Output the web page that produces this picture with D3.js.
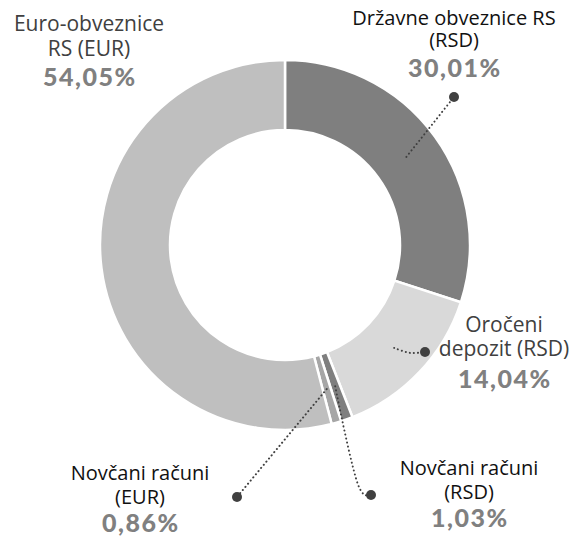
<!DOCTYPE html>
<html><head><meta charset="utf-8">
<script src="https://cdn.jsdelivr.net/npm/d3@7"></script>
<style>html,body{margin:0;padding:0;background:#fff;}svg{display:block;}</style>
</head><body>
<svg id="c" width="576" height="538"></svg>
<script>
// ---- data ----
const categories = ["Državne obveznice RS (RSD)", "Oročeni depozit (RSD)", "Novčani računi (RSD)", "Novčani računi (EUR)", "Euro-obveznice RS (EUR)"];
const values = [30.01, 14.04, 1.03, 0.86, 54.05];
const labelLines = [["Državne obveznice RS", "(RSD)"], ["Oročeni", "depozit (RSD)"], ["Novčani računi", "(RSD)"], ["Novčani računi", "(EUR)"], ["Euro-obveznice", "RS (EUR)"]];
const colors = ["#7f7f7f", "#d9d9d9", "#7f7f7f", "#a6a6a6", "#bfbfbf"];

// ---- layout ----
const cx = 285, cy = 245, R = 185, r = 115;
const layout = [
  {x: 454, y: [25, 47, 77], dot: [454, 97], font: "black", path: "straight"},
  {x: 504, y: [332, 356, 388], dot: [425, 352], font: "grey", path: "curve"},
  {x: 469, y: [475, 499, 527], dot: [371, 495], font: "black", path: "bend"},
  {x: 140, y: [480, 504, 532], dot: [237, 497], font: "black", path: "straight"},
  {x: 89, y: [31, 56, 86], dot: null, font: "grey", path: null}
];

const svg = d3.select("#c");
const g = svg.append("g").attr("transform", `translate(${cx},${cy})`);
const pie = d3.pie().sort(null).value(d => d)(values);
const arc = d3.arc().innerRadius(r).outerRadius(R);
const mid = d3.arc().innerRadius(150).outerRadius(150);

g.selectAll("path.s").data(pie).join("path").attr("class", "s")
  .attr("d", arc).attr("fill", (d, i) => colors[i])
  .attr("stroke", "#fff").attr("stroke-width", 2.5).attr("stroke-linejoin", "miter");

const fmt = v => d3.format(".2f")(v).replace(".", ",") + "%";

// connectors
pie.forEach((d, i) => {
  const L = layout[i];
  if (!L.dot) return;
  const [sx, sy] = mid.centroid(d);
  const s = [sx + cx, sy + cy];
  const e = L.dot;
  let pts;
  if (L.path === "straight") pts = [s, e];
  else if (L.path === "curve") pts = [s, [s[0] + 16, s[1] + 5], e];
  else pts = [s, [e[0] - 12, e[1] - 8], [e[0] - 6, e[1]], e];
  const line = d3.line().curve(L.path === "straight" ? d3.curveLinear : d3.curveCatmullRom);
  svg.append("path").attr("d", line(pts)).attr("fill", "none")
    .attr("stroke", "#404040").attr("stroke-width", 2)
    .attr("stroke-dasharray", "0.1 4").attr("stroke-linecap", "round");
  svg.append("circle").attr("cx", e[0]).attr("cy", e[1]).attr("r", 5).attr("fill", "#404040");
});

// labels
pie.forEach((d, i) => {
  const L = layout[i];
  const grey = L.font === "grey";
  labelLines[i].forEach((t, k) => {
    svg.append("text").attr("x", L.x).attr("y", L.y[k]).attr("text-anchor", "middle")
      .attr("font-family", "'Open Sans', sans-serif").attr("font-size", grey ? 21 : 20)
      .attr("font-weight", grey ? 400 : 500)
      .attr("fill", grey ? "#404040" : "#111").text(t);
  });
  svg.append("text").attr("x", L.x + 0.8).attr("y", L.y[2]).attr("text-anchor", "middle")
    .attr("font-family", "Lato, sans-serif").attr("font-size", 25).attr("font-weight", 900)
    .attr("letter-spacing", 1.5)
    .attr("fill", "#808080").text(fmt(values[i]));
});
</script>
</body></html>
